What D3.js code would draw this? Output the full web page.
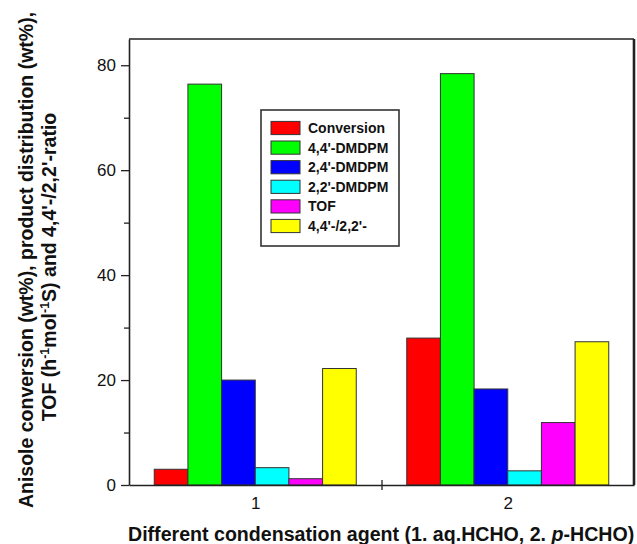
<!DOCTYPE html>
<html>
<head>
<meta charset="utf-8">
<script src="https://cdn.jsdelivr.net/npm/d3@7"></script>
<style>
  html, body { margin: 0; padding: 0; background: #fff; }
  svg { display: block; }
  text { font-family: "Liberation Sans", Arial, Helvetica, sans-serif; fill: #111; }
</style>
</head>
<body>
<svg id="chart" width="637" height="544"></svg>
<script>
// Condensation agents on the x axis (1 = aq.HCHO, 2 = p-HCHO)
const categories = [1, 2];
const categoryLabels = ["1", "2"];

// Series shown for each agent
const seriesNames = ["Conversion", "4,4'-DMDPM", "2,4'-DMDPM", "2,2'-DMDPM", "TOF", "4,4'-/2,2'-"];
const seriesColors = ["#ff0000", "#00ff00", "#0000ff", "#00ffff", "#ff00ff", "#ffff00"];

// Values per series, one per agent
const conversion = [3.0, 28.0];
const dmdpm44 = [76.4, 78.4];
const dmdpm24 = [20.0, 18.3];
const dmdpm22 = [3.3, 2.7];
const tof = [1.2, 11.9];
const ratio44to22 = [22.2, 27.3];
const seriesValues = [conversion, dmdpm44, dmdpm24, dmdpm22, tof, ratio44to22];

// Axis ticks
const yMajorTicks = [0, 20, 40, 60, 80];
const yMinorTicks = [10, 30, 50, 70];
const xDividerTicks = [1.5];

const svg = d3.select("#chart");
const plotLeft = 129, plotRight = 634, plotTop = 39, plotBottom = 485;

const x = d3.scaleLinear().domain([0.5, 2.5]).range([plotLeft, plotRight]);
const y = d3.scaleLinear().domain([0, 85]).range([plotBottom, plotTop]);

const groupWidth = 0.8;
const barWidth = groupWidth / seriesNames.length;

// Bars
const bars = [];
seriesValues.forEach((vals, s) => {
  vals.forEach((v, i) => bars.push({ s, c: categories[i], v }));
});
svg.append("g").selectAll("rect").data(bars).join("rect")
  .attr("x", d => x(d.c - groupWidth / 2 + d.s * barWidth))
  .attr("width", d => x(d.c - groupWidth / 2 + (d.s + 1) * barWidth) - x(d.c - groupWidth / 2 + d.s * barWidth))
  .attr("y", d => y(d.v))
  .attr("height", d => y(0) - y(d.v))
  .attr("fill", d => seriesColors[d.s])
  .attr("stroke", "#333")
  .attr("stroke-width", 1);

// Frame: top and right edges
svg.append("line").attr("x1", plotLeft).attr("x2", plotRight).attr("y1", plotTop).attr("y2", plotTop)
  .attr("stroke", "#222").attr("stroke-width", 1.6);
svg.append("line").attr("x1", plotRight).attr("x2", plotRight).attr("y1", plotTop).attr("y2", plotBottom)
  .attr("stroke", "#222").attr("stroke-width", 2.6);

// Y axis
const yAxis = svg.append("g").attr("transform", `translate(${plotLeft},0)`)
  .call(d3.axisLeft(y).tickValues(yMajorTicks).tickSizeInner(8).tickSizeOuter(0).tickPadding(5));
yAxis.select(".domain").attr("stroke", "#222").attr("stroke-width", 1.6);
yAxis.selectAll(".tick line").attr("stroke", "#222").attr("stroke-width", 1.3);
yAxis.selectAll(".tick text").style("font-size", "17px").attr("fill", "#111");

const yMinor = svg.append("g").attr("transform", `translate(${plotLeft},0)`)
  .call(d3.axisLeft(y).tickValues(yMinorTicks).tickSizeInner(5).tickSizeOuter(0).tickFormat(""));
yMinor.select(".domain").remove();
yMinor.selectAll(".tick line").attr("stroke", "#222").attr("stroke-width", 1.3);

// X axis: category labels without ticks
const xAxis = svg.append("g").attr("transform", `translate(0,${plotBottom})`)
  .call(d3.axisBottom(x).tickValues(categories).tickSize(0).tickPadding(12)
    .tickFormat((d, i) => categoryLabels[i]));
xAxis.select(".domain").attr("stroke", "#222").attr("stroke-width", 1.6);
xAxis.selectAll(".tick text").style("font-size", "17px").attr("fill", "#111");

// Divider tick crossing the x axis between the two groups
const xDivDown = svg.append("g").attr("transform", `translate(0,${plotBottom})`)
  .call(d3.axisBottom(x).tickValues(xDividerTicks).tickSizeInner(5).tickSizeOuter(0).tickFormat(""));
xDivDown.select(".domain").remove();
xDivDown.selectAll(".tick line").attr("stroke", "#222").attr("stroke-width", 1.3);
const xDivUp = svg.append("g").attr("transform", `translate(0,${plotBottom})`)
  .call(d3.axisTop(x).tickValues(xDividerTicks).tickSizeInner(5).tickSizeOuter(0).tickFormat(""));
xDivUp.select(".domain").remove();
xDivUp.selectAll(".tick line").attr("stroke", "#222").attr("stroke-width", 1.3);

// Axis titles
svg.append("text")
  .attr("x", 128).attr("y", 541)
  .style("font-size", "19.6px").style("font-weight", "bold")
  .html('Different condensation agent (1. aq.HCHO, 2. <tspan font-style="italic">p</tspan>-HCHO)');

// Rotated y title lines, centred by their measured length
function centredRotated(cx, cy, build) {
  const t = svg.append("text")
    .attr("text-anchor", "start")
    .style("font-size", "19.5px").style("font-weight", "bold");
  build(t);
  const len = t.node().getComputedTextLength();
  t.attr("transform", `translate(${cx},${cy}) rotate(-90) translate(${-len / 2},0)`);
  return t;
}

centredRotated(33, 260, t => t.text("Anisole conversion (wt%), product distribution (wt%),"));
centredRotated(56, 267, t => {
  t.append("tspan").text("TOF (h");
  t.append("tspan").attr("dy", -7).style("font-size", "12.5px").text("-1");
  t.append("tspan").attr("dy", 7).text("mol");
  t.append("tspan").attr("dy", -7).style("font-size", "12.5px").text("-1");
  t.append("tspan").attr("dy", 7).text("S) and 4,4'-/2,2'-ratio");
});

// Legend
const legend = svg.append("g");
legend.append("rect")
  .attr("x", 261).attr("y", 110).attr("width", 138).attr("height", 136)
  .attr("fill", "#fff").attr("stroke", "#333").attr("stroke-width", 1.6);
const rows = legend.selectAll("g.row").data(seriesNames).join("g")
  .attr("class", "row")
  .attr("transform", (d, i) => `translate(271,${128 + i * 19.6})`);
rows.append("rect")
  .attr("x", 0).attr("y", -6.6).attr("width", 29).attr("height", 13.2)
  .attr("fill", (d, i) => seriesColors[i]).attr("stroke", "#333").attr("stroke-width", 1);
rows.append("text")
  .attr("x", 37).attr("y", 5)
  .style("font-size", "14px").style("font-weight", "bold")
  .text(d => d);
</script>
</body>
</html>
